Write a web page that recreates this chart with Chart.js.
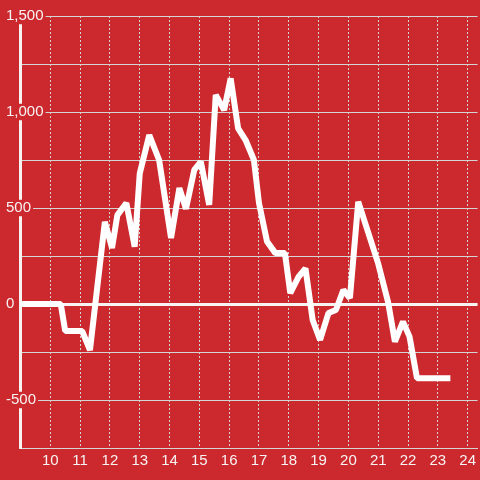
<!DOCTYPE html>
<html>
<head>
<meta charset="utf-8">
<script src="https://cdn.jsdelivr.net/npm/chart.js@4/dist/chart.umd.min.js"></script>
<style>
  html, body { margin: 0; padding: 0; background: #cc292e; }
  #wrap { width: 480px; height: 480px; position: relative; }
</style>
</head>
<body>
<div id="wrap"><canvas id="c"></canvas></div>
<script>
// Hour of day (x) and value (y)
const hours = [9.0, 10.35, 10.5, 11.07, 11.33, 11.83, 12.07, 12.25, 12.55, 12.83, 13.0, 13.32, 13.65,
  14.05, 14.33, 14.55, 14.83, 15.05, 15.33, 15.55, 15.83, 16.05, 16.3, 16.55, 16.83, 17.0, 17.27,
  17.55, 17.87, 18.05, 18.33, 18.56, 18.8, 19.05, 19.33, 19.58, 19.83, 20.05, 20.33, 20.6, 21.0,
  21.33, 21.56, 21.83, 22.05, 22.3, 23.42];
const values = [0, 0, -141, -141, -240, 428, 292, 463, 526, 298, 680, 880, 750,
  344, 604, 495, 698, 741, 516, 1089, 1010, 1175, 915, 854, 750, 526, 325,
  265, 265, 57, 142, 185, -83, -187, -47, -31, 73, 31, 533, 403, 210,
  10, -196, -92, -170, -387, -387];
const xTickLabels = ['10','11','12','13','14','15','16','17','18','19','20','21','22','23','24'];
const yLabelEvery = 500;

const RED = '#cc292e';
const GRID = '#d4d4d4';
const WHITE = '#f7f3f3';

const bg = {
  id: 'bg',
  beforeDraw(chart) {
    const ctx = chart.ctx;
    ctx.save();
    ctx.fillStyle = RED;
    ctx.fillRect(0, 0, chart.width, chart.height);
    ctx.restore();
  }
};

new Chart(document.getElementById('c'), {
  type: 'line',
  data: {
    datasets: [{
      data: hours.map((h, i) => ({ x: h, y: values[i] })),
      borderColor: '#ffffff',
      borderWidth: 6,
      borderJoinStyle: 'bevel',
      pointRadius: 0,
      tension: 0,
      fill: false
    }]
  },
  plugins: [bg],
  options: {
    responsive: true,
    maintainAspectRatio: false,
    animation: false,
    events: [],
    layout: { padding: { left: 6, top: 16, right: 0, bottom: 0 } },
    plugins: { legend: { display: false }, tooltip: { enabled: false } },
    scales: {
      x: {
        type: 'linear',
        min: 9,
        max: 24.333,
        afterFit(scale) { scale.height = 32; },
        grid: {
          color: GRID,
          lineWidth: 1,
          drawTicks: false
        },
        border: { display: true, color: GRID, width: 1, dash: [2, 2] },
        ticks: {
          stepSize: 1,
          includeBounds: false,
          autoSkip: false,
          maxRotation: 0,
          padding: 4,
          color: WHITE,
          font: { family: 'Liberation Sans, Arial, sans-serif', size: 15 },
          callback(v) { const s = String(v); return xTickLabels.includes(s) ? s : ''; }
        }
      },
      y: {
        min: -750,
        max: 1500,
        afterFit(scale) { scale.width = 14.5; },
        grid: {
          color: (ctx) => ctx.tick && ctx.tick.value === 0 ? WHITE : GRID,
          lineWidth: (ctx) => ctx.tick && ctx.tick.value === 0 ? 3 : 1,
          drawTicks: false
        },
        border: { display: true, color: WHITE, width: 3 },
        ticks: {
          stepSize: 250,
          mirror: true,
          padding: -14.5,
          color: WHITE,
          font: { family: 'Liberation Sans, Arial, sans-serif', size: 15, lineHeight: 1.1 },
          showLabelBackdrop: (ctx) => ctx.tick && ctx.tick.value % yLabelEvery === 0,
          backdropColor: RED,
          backdropPadding: { top: 0, bottom: 0, left: 2, right: 2 },
          callback(v) { return v % yLabelEvery === 0 ? v.toLocaleString('en-US') : ''; }
        }
      }
    }
  }
});
</script>
</body>
</html>
